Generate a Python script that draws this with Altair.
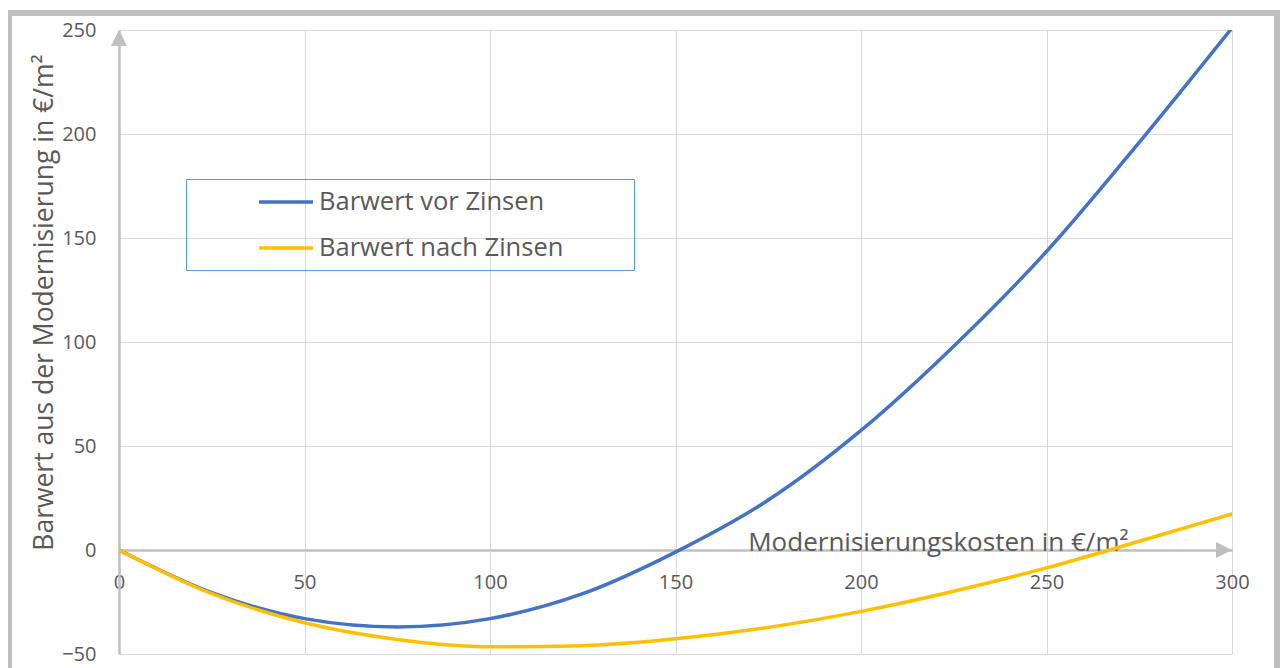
import altair as alt
import pandas as pd

# Data
cost = [0, 25, 50, 75, 100, 125, 150, 175, 200, 225, 250, 275, 300]
before_interest = [0, -20.5, -33, -37, -33, -21, -1, 24, 57.5, 98, 143.5, 196, 251]
after_interest = [0, -21, -35, -43, -46.5, -46, -42.7, -37.2, -29.5, -19.8, -8.6, 4.2, 17.3]
series = ["Barwert vor Zinsen", "Barwert nach Zinsen"]
colors = ["#4472C4", "#FFC000"]
x_ticks = [0, 50, 100, 150, 200, 250, 300]
y_ticks = [-50, 0, 50, 100, 150, 200, 250]

df = pd.DataFrame({
    "x": cost + cost,
    "y": before_interest + after_interest,
    "s": [series[0]] * len(cost) + [series[1]] * len(cost),
})

FONT = "Open Sans"
TXT = "#595959"
AXIS_GRAY = "#bfbfbf"
GRID = "#d9d9d9"

xs = alt.Scale(domain=[x_ticks[0], x_ticks[-1]], nice=False, zero=False)
ys = alt.Scale(domain=[y_ticks[0], y_ticks[-1]], nice=False, zero=False)

x_enc = alt.X(
    "x:Q", scale=xs,
    axis=alt.Axis(
        values=x_ticks, offset=-104, grid=True, gridColor=GRID, gridWidth=1,
        domainColor=AXIS_GRAY, domainWidth=2.5, ticks=False,
        labelPadding=22, labelFontSize=20, labelColor=TXT, labelFont=FONT,
        labelFlush=False, labelOverlap=False,
        title="Modernisierungskosten in €/m²", titleFont=FONT, titleFontSize=26,
        titleFontWeight="normal", titleColor=TXT, titleX=1009, titleY=0,
        titleAlign="right", titleBaseline="alphabetic",
    ),
)
y_enc = alt.Y(
    "y:Q", scale=ys,
    axis=alt.Axis(
        values=y_ticks, grid=True, gridColor=GRID, gridWidth=1,
        domainColor=AXIS_GRAY, domainWidth=2.5, ticks=False,
        labelPadding=23, labelFontSize=20, labelColor=TXT, labelFont=FONT,
        labelFlush=False, labelOverlap=False, labelBaseline="middle",
        title="Barwert aus der Modernisierung in €/m²", titleFont=FONT,
        titleFontSize=26.5, titleFontWeight="normal", titleColor=TXT,
        titleAngle=270, titleX=-67, titleY=272, titleAlign="center",
        titleBaseline="alphabetic",
    ),
)

color_enc = alt.Color(
    "s:N",
    scale=alt.Scale(domain=series, range=colors),
    legend=alt.Legend(
        title=None, orient="none", legendX=67, legendY=149, direction="vertical",
        symbolType="stroke", symbolSize=2916, symbolStrokeWidth=3.5,
        symbolOffset=71, labelOffset=4, clipHeight=46, rowPadding=0, padding=0,
        labelFont=FONT, labelFontSize=25.5, labelColor=TXT, labelLimit=1000,
    ),
)

base = alt.Chart(df)
line_blue = base.transform_filter(alt.datum.s == series[0]).mark_line(
    strokeWidth=3.5, interpolate="monotone", clip=True, strokeCap="round"
).encode(x=x_enc, y=y_enc, color=color_enc)
line_yellow = base.transform_filter(alt.datum.s == series[1]).mark_line(
    strokeWidth=3.5, interpolate="monotone", clip=True, strokeCap="round"
).encode(x=x_enc, y=y_enc, color=color_enc)

arrow_right = alt.Chart(pd.DataFrame({"x": [x_ticks[-1]], "y": [0]})).mark_point(
    shape="M0,0L-2,-1L-2,1Z", size=256, filled=True, color=AXIS_GRAY, opacity=1, strokeWidth=0
).encode(x=x_enc, y=y_enc)
arrow_up = alt.Chart(pd.DataFrame({"x": [0], "y": [y_ticks[-1]]})).mark_point(
    shape="M0,0L1,2L-1,2Z", size=256, filled=True, color=AXIS_GRAY, opacity=1, strokeWidth=0
).encode(x=x_enc, y=y_enc)

# decorative outer chart frame and legend box
frame = alt.Chart(pd.DataFrame({"k": [0]})).mark_rect(
    fillOpacity=0, stroke=AXIS_GRAY, strokeWidth=6
).encode(x=alt.value(-110), x2=alt.value(1158), y=alt.value(-17), y2=alt.value(700))
legend_box = alt.Chart(pd.DataFrame({"k": [0]})).mark_rect(
    fillOpacity=0, stroke="#5B9BD5", strokeWidth=1
).encode(x=alt.value(67.5), x2=alt.value(515.5), y=alt.value(149.5), y2=alt.value(240.5))

chart = alt.layer(frame, legend_box, line_blue, line_yellow, arrow_right, arrow_up).properties(
    width=1113, height=624, autosize="none",
    padding={"left": 111, "top": 22, "right": 48, "bottom": 20},
    background="white",
).configure_view(strokeWidth=0)

chart.save("out.html", embed_options={"renderer": "svg", "actions": False})
